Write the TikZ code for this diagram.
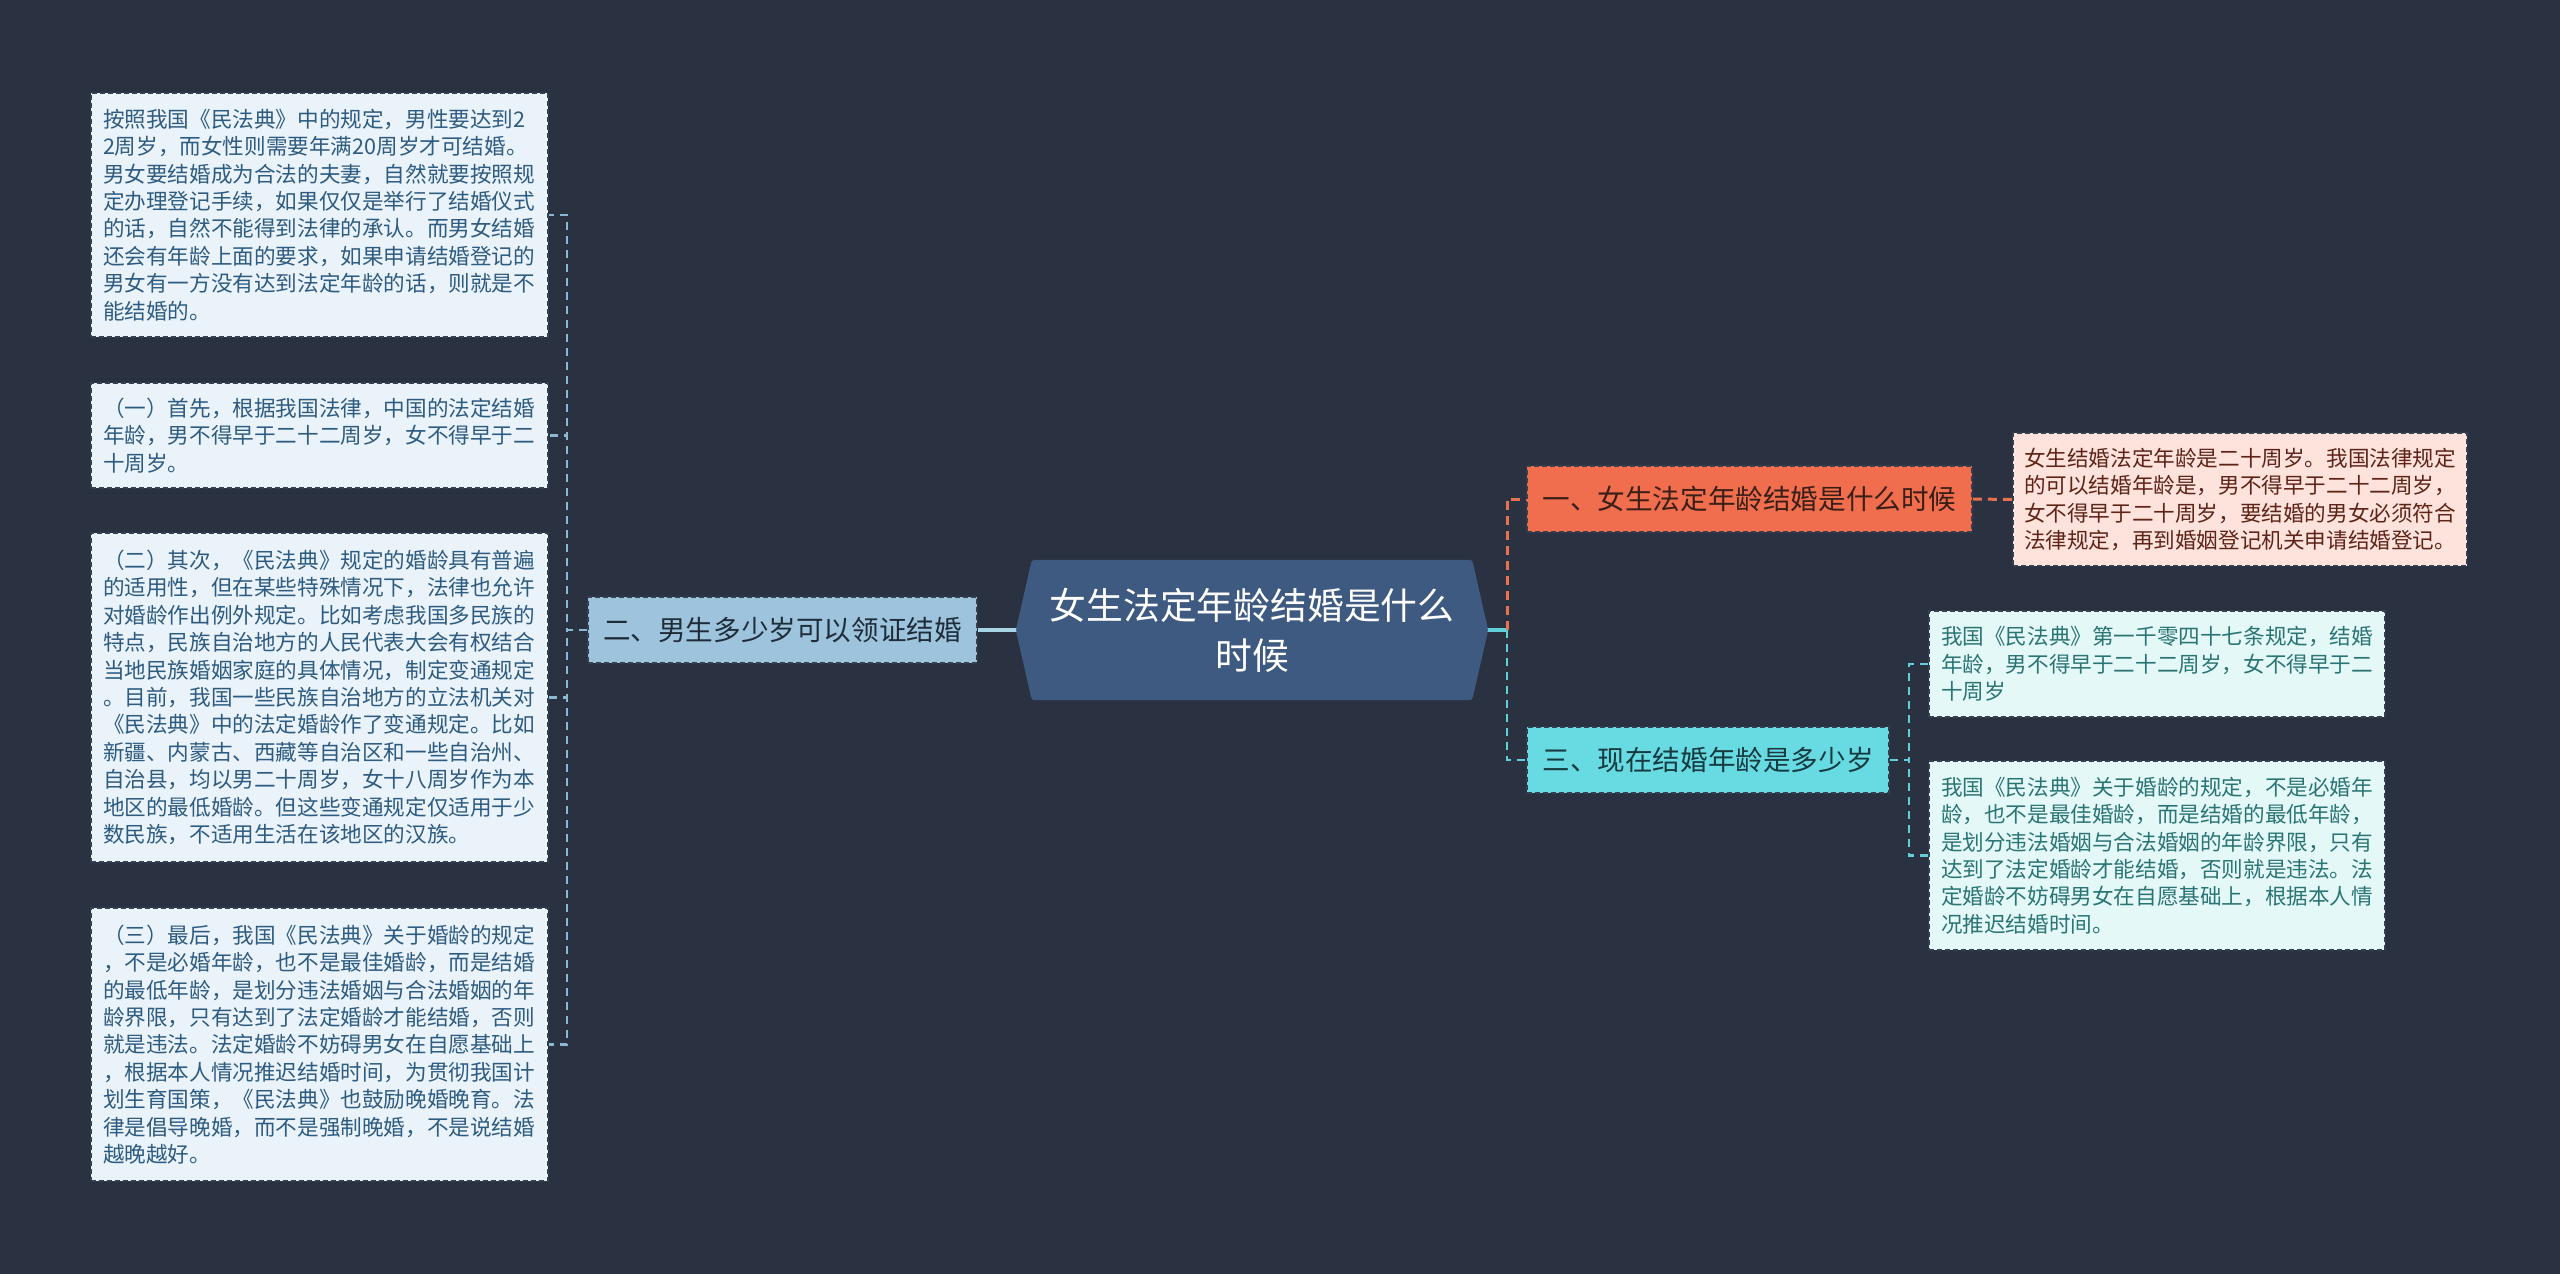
\documentclass[tikz,border=0pt]{standalone}
\usepackage{fontspec}
\newfontfamily\cjk{Noto Sans CJK SC}
\usetikzlibrary{backgrounds,calc}
\definecolor{bgc}{HTML}{2A3140}
\definecolor{lfill}{HTML}{EAF3FA}
\definecolor{ltext}{HTML}{2E5B80}
\definecolor{b2fill}{HTML}{9EC4DD}
\definecolor{b2text}{HTML}{1F2D3A}
\definecolor{lconnc}{HTML}{8CB8D2}
\definecolor{cfill}{HTML}{3E5A80}
\definecolor{b1fill}{HTML}{F06E4D}
\definecolor{b1text}{HTML}{3A1F18}
\definecolor{r1fill}{HTML}{FDE3DC}
\definecolor{r1text}{HTML}{5E2418}
\definecolor{oconn}{HTML}{E8714F}
\definecolor{b3fill}{HTML}{68DBE2}
\definecolor{b3text}{HTML}{173940}
\definecolor{r3fill}{HTML}{E4F8F8}
\definecolor{r3text}{HTML}{2B7474}
\definecolor{cconn}{HTML}{62CFD8}
\definecolor{edgec}{HTML}{34404F}
\definecolor{b2conn}{HTML}{A8D4E6}
\tikzset{
  boxbase/.style={rectangle, draw=edgec, dash pattern=on 5pt off 3pt, line width=1.5pt},
  leafbox/.style={boxbase, minimum width=457, text width=433, align=left, inner xsep=12, inner ysep=0,
    font=\cjk\fontsize{21.6}{27.4}\selectfont},
  branchbox/.style={boxbase, minimum height=66, inner xsep=14, inner ysep=0,
    font=\cjk\fontsize{27.6}{33}\selectfont},
  dconn/.style={line width=2.5pt, dash pattern=on 8pt off 6pt},
}
\begin{document}
\begin{tikzpicture}[x=1pt,y=-1pt]
\useasboundingbox (0,0) rectangle (2560,1274);
% left leaves
\node[leafbox, fill=lfill, text=ltext, minimum height=244] (L1) at (319.5,215) {按照我国《民法典》中的规定，男性要达到2\\2周岁，而女性则需要年满20周岁才可结婚。\\男女要结婚成为合法的夫妻，自然就要按照规\\定办理登记手续，如果仅仅是举行了结婚仪式\\的话，自然不能得到法律的承认。而男女结婚\\还会有年龄上面的要求，如果申请结婚登记的\\男女有一方没有达到法定年龄的话，则就是不\\能结婚的。};
\node[leafbox, fill=lfill, text=ltext, minimum height=105] (L2) at (319.5,435.5) {（一）首先，根据我国法律，中国的法定结婚\\年龄，男不得早于二十二周岁，女不得早于二\\十周岁。};
\node[leafbox, fill=lfill, text=ltext, minimum height=329] (L3) at (319.5,697.5) {（二）其次，《民法典》规定的婚龄具有普遍\\的适用性，但在某些特殊情况下，法律也允许\\对婚龄作出例外规定。比如考虑我国多民族的\\特点，民族自治地方的人民代表大会有权结合\\当地民族婚姻家庭的具体情况，制定变通规定\\。目前，我国一些民族自治地方的立法机关对\\《民法典》中的法定婚龄作了变通规定。比如\\新疆、内蒙古、西藏等自治区和一些自治州、\\自治县，均以男二十周岁，女十八周岁作为本\\地区的最低婚龄。但这些变通规定仅适用于少\\数民族，不适用生活在该地区的汉族。};
\node[leafbox, fill=lfill, text=ltext, minimum height=273] (L4) at (319.5,1044.5) {（三）最后，我国《民法典》关于婚龄的规定\\，不是必婚年龄，也不是最佳婚龄，而是结婚\\的最低年龄，是划分违法婚姻与合法婚姻的年\\龄界限，只有达到了法定婚龄才能结婚，否则\\就是违法。法定婚龄不妨碍男女在自愿基础上\\，根据本人情况推迟结婚时间，为贯彻我国计\\划生育国策，《民法典》也鼓励晚婚晚育。法\\律是倡导晚婚，而不是强制晚婚，不是说结婚\\越晚越好。};
% branch left
\node[branchbox, fill=b2fill, text=b2text, minimum width=389] (B2) at (782.5,630) {二、男生多少岁可以领证结婚};
% center
\node[rectangle, minimum width=440, minimum height=140, align=center, text=white, inner sep=0,
  font=\cjk\fontsize{36.8}{50}\selectfont] (C) at (1252,630) {女生法定年龄结婚是什么\\时候};
% right branches
\node[branchbox, fill=b1fill, text=b1text, minimum width=445] (B1) at (1749.5,499) {一、女生法定年龄结婚是什么时候};
\node[leafbox, fill=r1fill, text=r1text, minimum width=454, text width=432, inner xsep=11, minimum height=133] (R1) at (2240,499.5) {女生结婚法定年龄是二十周岁。我国法律规定\\的可以结婚年龄是，男不得早于二十二周岁，\\女不得早于二十周岁，要结婚的男女必须符合\\法律规定，再到婚姻登记机关申请结婚登记。};
\node[branchbox, fill=b3fill, text=b3text, minimum width=362] (B3) at (1708,760) {三、现在结婚年龄是多少岁};
\node[leafbox, fill=r3fill, text=r3text, minimum width=456, text width=432, minimum height=106] (R31) at (2157,664) {我国《民法典》第一千零四十七条规定，结婚\\年龄，男不得早于二十二周岁，女不得早于二\\十周岁};
\node[leafbox, fill=r3fill, text=r3text, minimum width=456, text width=432, minimum height=189] (R32) at (2157,855.5) {我国《民法典》关于婚龄的规定，不是必婚年\\龄，也不是最佳婚龄，而是结婚的最低年龄，\\是划分违法婚姻与合法婚姻的年龄界限，只有\\达到了法定婚龄才能结婚，否则就是违法。法\\定婚龄不妨碍男女在自愿基础上，根据本人情\\况推迟结婚时间。};
\coordinate (jl) at (567,630);
\coordinate (jr) at (1507,630);
\coordinate (j3) at (1909,760);
\begin{scope}[on background layer]
\fill[bgc] (0,0) rectangle (2560,1274);
% left connectors
\draw[dconn, lconnc] (B2.west) -- (jl) |- (L1.east);
\draw[dconn, lconnc] (B2.west) -- (jl) |- (L2.east);
\draw[dconn, lconnc] (B2.west) -- (jl) |- (L3.east);
\draw[dconn, lconnc] (B2.west) -- (jl) |- (L4.east);
\draw[line width=4pt, b2conn] (B2.east) -- (C.west);
% right connectors
\draw[line width=4pt, cconn] (C.east) -- (jr);
\draw[dconn, oconn, line width=3pt, dash pattern=on 9pt off 6pt] (jr) |- (B1.west);
\draw[dconn, cconn] (jr) |- (B3.west);
\draw[dconn, oconn, line width=3pt, dash pattern=on 9pt off 6pt] (B1.east) -- (R1.west);
\draw[dconn, cconn] (B3.east) -- (j3) |- (R31.west);
\draw[dconn, cconn] (B3.east) -- (j3) |- (R32.west);
% center shape
\fill[cfill, rounded corners=3pt] (C.north west) -- (C.north east) -- ($(C.east)+(16,0)$) -- (C.south east) -- (C.south west) -- ($(C.west)+(-16,0)$) -- cycle;
\end{scope}
\end{tikzpicture}
\end{document}
